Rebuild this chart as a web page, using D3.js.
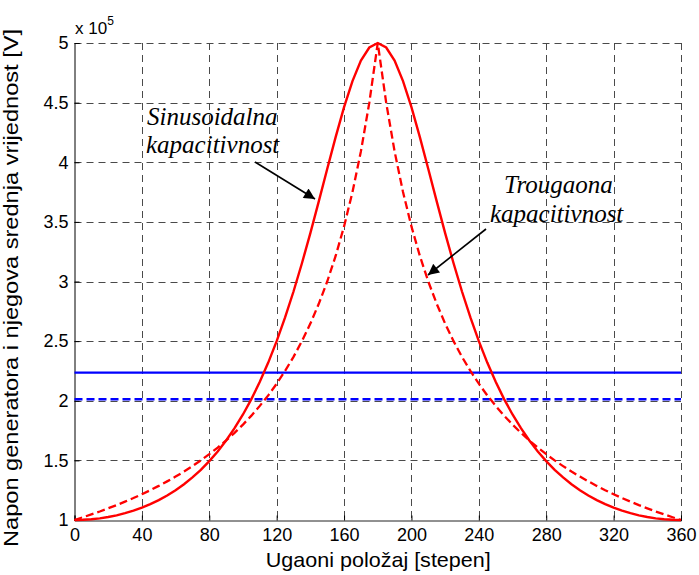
<!DOCTYPE html>
<html><head><meta charset="utf-8">
<script src="https://cdn.jsdelivr.net/npm/d3@7"></script>
<style>
html,body{margin:0;padding:0;background:#fff;}
svg{display:block;}
</style></head>
<body>
<svg id="chart" width="699" height="575"></svg>
<script>
// ---- data (values in units of 10^5 V) ----
const angles = [0,5,10,15,20,25,30,35,40,45,50,55,60,65,70,75,80,85,90,95,100,105,110,115,120,125,130,135,140,145,150,155,160,165,170,175,180,
  185,190,195,200,205,210,215,220,225,230,235,240,245,250,255,260,265,270,275,280,285,290,295,300,305,310,315,320,325,330,335,340,345,350,355,360];
const sinusoidal = [1.000,1.002,1.006,1.014,1.025,1.039,1.057,1.078,1.103,1.133,1.167,1.206,1.250,1.300,1.357,1.421,1.494,1.575,1.667,1.770,1.885,2.014,2.159,2.320,2.500,2.699,2.916,3.153,3.406,3.672,3.943,4.211,4.462,4.681,4.853,4.962,5.000,
  4.962,4.853,4.681,4.462,4.211,3.943,3.672,3.406,3.153,2.916,2.699,2.500,2.320,2.159,2.014,1.885,1.770,1.667,1.575,1.494,1.421,1.357,1.300,1.250,1.206,1.167,1.133,1.103,1.078,1.057,1.039,1.025,1.014,1.006,1.002,1.000];
const triangular = [1.000,1.023,1.047,1.071,1.098,1.125,1.154,1.184,1.216,1.250,1.286,1.324,1.364,1.406,1.452,1.500,1.552,1.607,1.667,1.731,1.800,1.875,1.957,2.045,2.143,2.250,2.368,2.500,2.647,2.813,3.000,3.214,3.462,3.750,4.091,4.500,5.000,
  4.500,4.091,3.750,3.462,3.214,3.000,2.813,2.647,2.500,2.368,2.250,2.143,2.045,1.957,1.875,1.800,1.731,1.667,1.607,1.552,1.500,1.452,1.406,1.364,1.324,1.286,1.250,1.216,1.184,1.154,1.125,1.098,1.071,1.047,1.023,1.000];
const meanSinusoidal = 2.236;
const meanTriangular = 2.012;
const xTicks = [0,40,80,120,160,200,240,280,320,360];
const yTicks = [1,1.5,2,2.5,3,3.5,4,4.5,5];
const yTickLabels = ["1","1.5","2","2.5","3","3.5","4","4.5","5"];
const xLabel = "Ugaoni položaj [stepen]";
const yLabel = "Napon generatora i njegova srednja vrijednost [V]";
const annSin = ["Sinusoidalna","kapacitivnost"];
const annTri = ["Trougaona","kapacitivnost"];

// ---- layout ----
const svg = d3.select("#chart");
const L = 74.5, R = 681, T = 43, B = 520;
const x = d3.scaleLinear().domain([0,360]).range([L,R]);
const y = d3.scaleLinear().domain([1,5]).range([B,T]);
const sans = "'Liberation Sans', Arial, Helvetica, sans-serif";
const serif = "'Liberation Serif', 'Times New Roman', serif";

// grid
const grid = svg.append("g").attr("stroke","#4a4a4a").attr("stroke-width",1)
  .attr("stroke-dasharray","7,5").attr("fill","none");
xTicks.filter(d=>d>0).forEach(d=>{
  grid.append("line").attr("x1",Math.round(x(d))+0.5).attr("x2",Math.round(x(d))+0.5).attr("y1",T).attr("y2",B);
});
yTicks.filter(d=>d>1).forEach(d=>{
  grid.append("line").attr("x1",L).attr("x2",R).attr("y1",Math.round(y(d))+0.5).attr("y2",Math.round(y(d))+0.5);
});

// axes (left & bottom solid) using d3 axes
const xAxis = d3.axisBottom(x).tickValues(xTicks).tickSize(-5).tickPadding(8).tickFormat(d3.format("d"));
const yAxis = d3.axisLeft(y).tickValues(yTicks).tickSize(-5).tickPadding(6).tickFormat((d,i)=>yTickLabels[i]);
const gx = svg.append("g").attr("transform",`translate(0,${B+0.5})`).call(xAxis);
const gy = svg.append("g").attr("transform",`translate(${L},0)`).call(yAxis);
[gx,gy].forEach(g=>{
  g.select(".domain").attr("stroke","#000").attr("stroke-width",1);
  g.selectAll(".tick line").attr("stroke","#000");
  g.selectAll("text").attr("font-family",sans).attr("font-size",18).attr("fill","#000");
});
gx.select(".domain").attr("stroke","#222");
gx.selectAll("text").attr("dy","0.71em");

// exponent label
const ex = svg.append("text").attr("x",75).attr("y",34).attr("font-family",sans).attr("font-size",17).attr("fill","#000");
ex.append("tspan").text("x 10");
ex.append("tspan").attr("dy",-9).attr("font-size",12).text("5");

// axis labels
svg.append("text").attr("x",(L+R)/2+0.5).attr("y",567).attr("text-anchor","middle")
  .attr("font-family",sans).attr("font-size",21).attr("textLength",225).attr("lengthAdjust","spacingAndGlyphs").text(xLabel);
svg.append("text").attr("transform",`translate(18,288) rotate(-90)`).attr("text-anchor","middle")
  .attr("font-family",sans).attr("font-size",21).attr("textLength",518).attr("lengthAdjust","spacingAndGlyphs").text(yLabel);

// mean lines
const ln = d3.line().x(d=>x(d[0])).y(d=>y(d[1]));
svg.append("path").attr("d",ln([[0,meanSinusoidal],[360,meanSinusoidal]]))
  .attr("stroke","#0000ff").attr("stroke-width",2.2).attr("fill","none");
svg.append("path").attr("d",ln([[0,meanTriangular],[360,meanTriangular]]))
  .attr("stroke","#0000ff").attr("stroke-width",2.6).attr("stroke-dasharray","8,4").attr("fill","none");

// curves
const curve = d3.line().x((d,i)=>x(angles[i])).y(d=>y(d));
svg.append("path").attr("d",curve(triangular)).attr("stroke","#ff0000").attr("stroke-width",2.3)
  .attr("stroke-dasharray","8,4").attr("fill","none");
svg.append("path").attr("d",curve(sinusoidal)).attr("stroke","#ff0000").attr("stroke-width",2.4)
  .attr("fill","none");

// annotations
function annText(lines, xs, ys){
  lines.forEach((t,i)=>{
    svg.append("text").attr("x",xs[i]).attr("y",ys[i]).attr("font-family",serif)
      .attr("font-style","italic").attr("font-size",25).attr("fill","#000").text(t);
  });
}
annText(annSin,[147,146],[125,153]);
annText(annTri,[504,490],[193,222]);

const defs = svg.append("defs");
defs.append("marker").attr("id","ah").attr("viewBox","0 0 10 10").attr("refX",10).attr("refY",5)
  .attr("markerWidth",15).attr("markerHeight",11).attr("markerUnits","userSpaceOnUse").attr("orient","auto")
  .append("path").attr("d","M0,0 L10,5 L0,10 Z").attr("fill","#000");
function arrow(x1,y1,x2,y2){
  svg.append("line").attr("x1",x1).attr("y1",y1).attr("x2",x2).attr("y2",y2)
    .attr("stroke","#000").attr("stroke-width",1.6).attr("marker-end","url(#ah)");
}
arrow(255,162,315,199);
arrow(486,229,428,275);
</script>
</body></html>
